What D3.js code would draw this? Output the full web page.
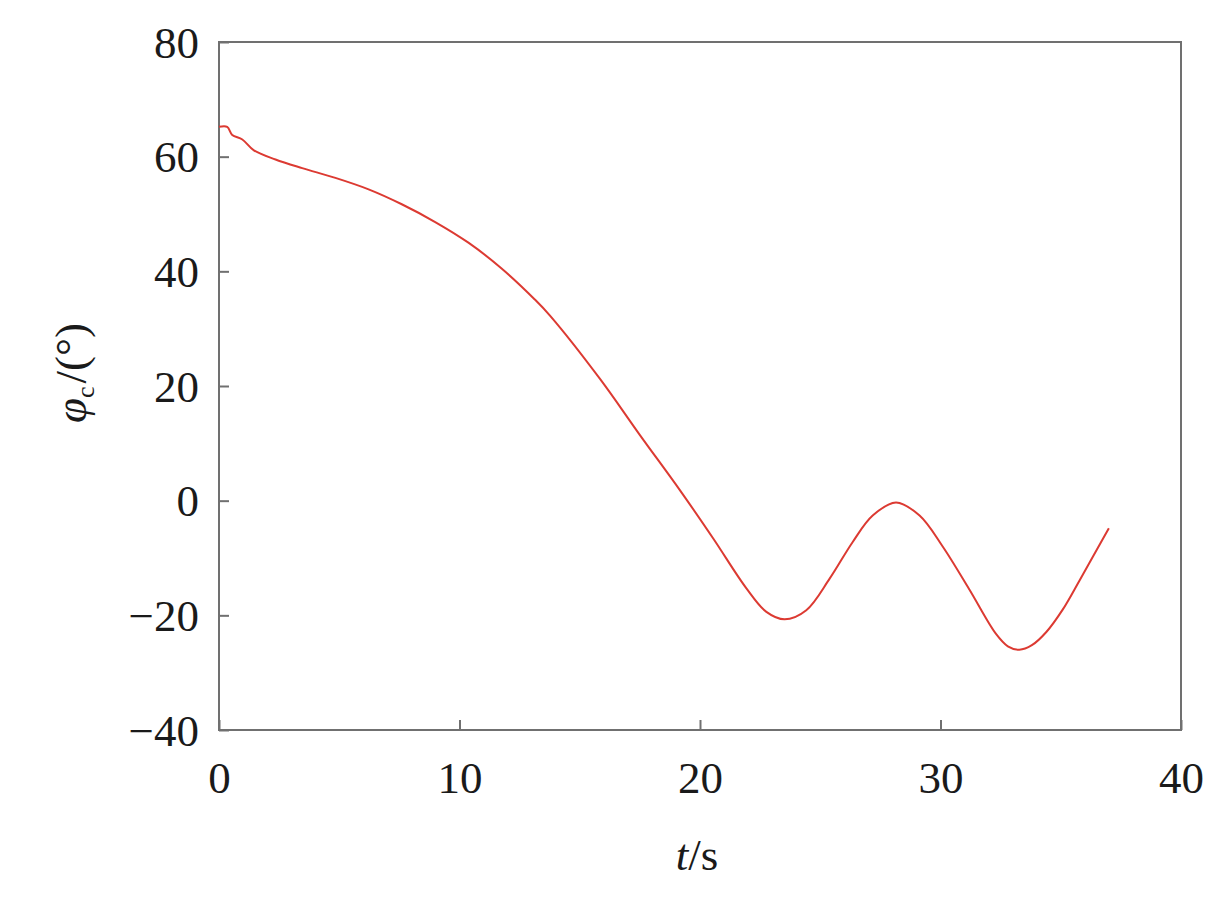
<!DOCTYPE html>
<html>
<head>
<meta charset="utf-8">
<script src="https://cdn.jsdelivr.net/npm/d3@7"></script>
<style>
  body { margin: 0; background: #fff; }
  text { font-family: "Liberation Serif", "Times New Roman", serif; fill: #1a1a1a; }
</style>
</head>
<body>
<svg id="chart" width="1216" height="907"></svg>
<script>
// time (s) and angle phi_c (deg)
var tValues = [0, 0.34, 0.55, 0.97, 1.45, 2.35, 3.46, 4.84, 6.22, 7.6, 8.99, 10.37, 11.75, 13.13, 13.78,
  15.85, 17.51, 19.17, 20.55, 21.93, 22.76, 23.52, 24.42, 25.39, 26.35, 27.18, 28.15, 29.13, 30.09,
  31.2, 32.3, 32.8, 33.28, 33.8, 34.4, 35.08, 35.77, 37.0];
var phiValues = [65.2, 65.2, 63.8, 63.0, 61.1, 59.5, 58.0, 56.3, 54.3, 51.7, 48.6, 45.0, 40.5, 35.1, 32.2,
  21.2, 11.4, 1.8, -6.6, -15.3, -19.4, -20.7, -19.1, -13.6, -7.2, -2.6, -0.3, -2.6, -8.0,
  -15.5, -23.2, -25.4, -26.0, -25.2, -22.9, -19.0, -14.0, -4.8];
var xTicks = [0, 10, 20, 30, 40];
var yTicks = [-40, -20, 0, 20, 40, 60, 80];

var plotL = 219, plotR = 1181, plotT = 42, plotB = 730;

var svg = d3.select('#chart');

var x = d3.scaleLinear().domain([0, 40]).range([plotL, plotR]);
var y = d3.scaleLinear().domain([-40, 80]).range([plotB, plotT]);

function fmt(d) { return d < 0 ? '\u2212' + Math.abs(d) : String(d); }

// frame
svg.append('rect')
  .attr('x', plotL).attr('y', plotT)
  .attr('width', plotR - plotL).attr('height', plotB - plotT)
  .attr('fill', 'none').attr('stroke', '#707070').attr('stroke-width', 2);

// bottom axis, ticks inward
var xAxis = svg.append('g')
  .attr('transform', 'translate(0,' + plotB + ')')
  .call(d3.axisBottom(x).tickValues(xTicks).tickSize(-10).tickPadding(0).tickFormat(fmt));
xAxis.select('.domain').remove();
xAxis.selectAll('line').attr('stroke', '#707070').attr('stroke-width', 2);
xAxis.selectAll('text')
  .attr('y', 63).attr('dy', 0)
  .style('font-size', '45px');

// left axis, ticks inward
var yAxis = svg.append('g')
  .attr('transform', 'translate(' + plotL + ',0)')
  .call(d3.axisLeft(y).tickValues(yTicks).tickSize(-10).tickPadding(0).tickFormat(fmt));
yAxis.select('.domain').remove();
yAxis.selectAll('line').attr('stroke', '#707070').attr('stroke-width', 2);
yAxis.selectAll('text')
  .attr('x', -20).attr('dy', '0.34em')
  .style('font-size', '45px');

// curve
var data = tValues.map(function(t, i) { return [t, phiValues[i]]; });
var line = d3.line()
  .x(function(d) { return x(d[0]); })
  .y(function(d) { return y(d[1]); })
  .curve(d3.curveCatmullRom.alpha(0.5));

svg.append('path')
  .datum(data)
  .attr('d', line)
  .attr('fill', 'none')
  .attr('stroke', '#dc3a32')
  .attr('stroke-width', 2);

// x label
var xl = svg.append('text')
  .attr('x', 697).attr('y', 870)
  .attr('text-anchor', 'middle')
  .style('font-size', '45px');
xl.append('tspan').style('font-style', 'italic').text('t');
xl.append('tspan').text('/s');

// y label
var yl = svg.append('text')
  .attr('transform', 'translate(86,373) rotate(-90)')
  .attr('text-anchor', 'middle')
  .style('font-size', '45px');
yl.append('tspan').style('font-style', 'italic').text('\u03c6');
yl.append('tspan').attr('dy', 8).style('font-size', '26px').style('font-style', 'normal').text('c');
yl.append('tspan').attr('dy', -8).attr('dx', 3).text('/(\u00b0)');
</script>
</body>
</html>
